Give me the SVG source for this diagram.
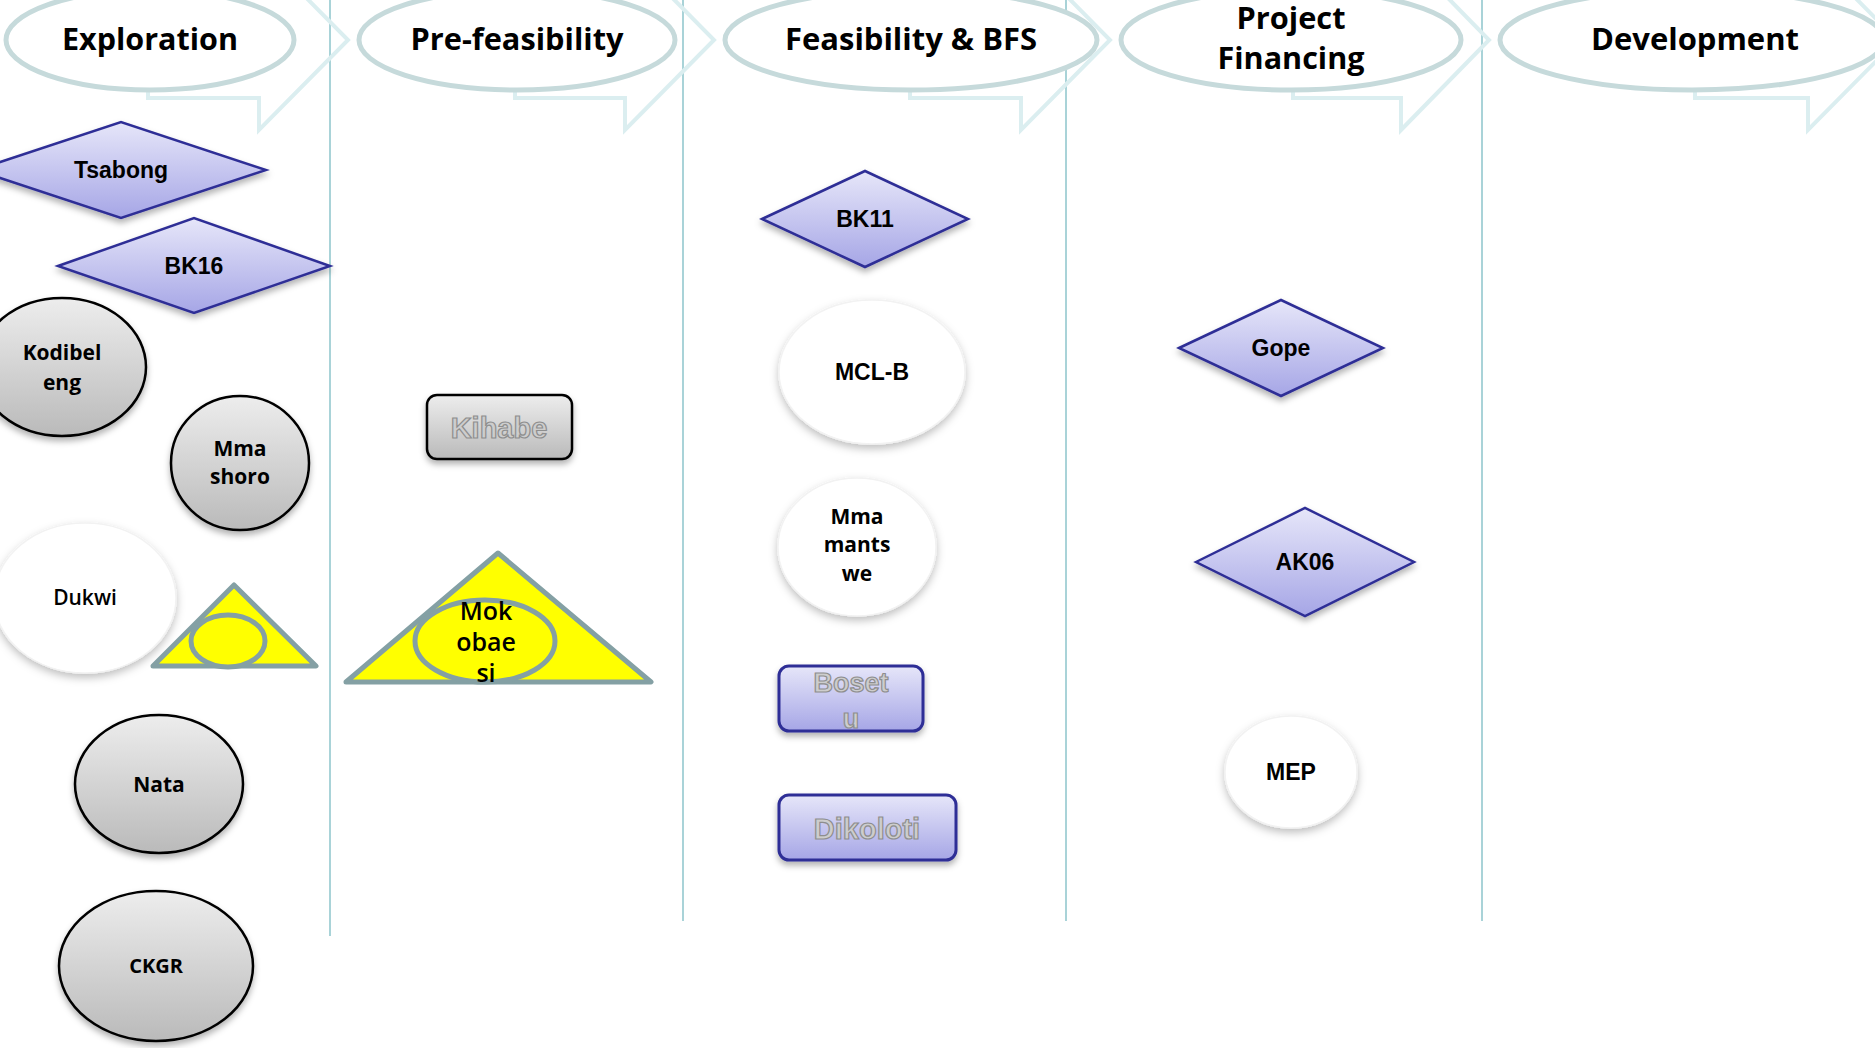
<svg xmlns="http://www.w3.org/2000/svg" width="1875" height="1048" viewBox="0 0 1875 1048">
<defs>
<linearGradient id="gGray" x1="0" y1="0" x2="0" y2="1"><stop offset="0" stop-color="#ededed"/><stop offset="1" stop-color="#bababa"/></linearGradient>
<linearGradient id="gLav" x1="0" y1="0" x2="0" y2="1"><stop offset="0" stop-color="#e6e6f9"/><stop offset="1" stop-color="#a6a6e6"/></linearGradient>
<filter id="sh" x="-20%" y="-20%" width="140%" height="150%"><feDropShadow dx="0" dy="4" stdDeviation="3" flood-color="#000" flood-opacity="0.3"/></filter>
<filter id="shw" x="-20%" y="-20%" width="140%" height="150%"><feDropShadow dx="0" dy="4" stdDeviation="4" flood-color="#000" flood-opacity="0.25"/></filter>
<style>
.div{stroke:#a9d3d8;stroke-width:2;fill:none}
.arr{fill:none;stroke:#dbeef0;stroke-width:4}
.hell{fill:#fff;stroke:#c6dadb;stroke-width:5}
.ht{font-family:"Open Sans","Noto Sans",sans-serif;font-weight:700;font-size:30px;fill:#000;text-anchor:middle}
.dia{fill:url(#gLav);stroke:#2e2e96;stroke-width:2.5;filter:url(#sh)}
.gray{fill:url(#gGray);stroke:#000;stroke-width:2.5;filter:url(#sh)}
.wht{fill:#fff;stroke:#f2f2f2;stroke-width:1.5;filter:url(#shw)}
.lavr{fill:url(#gLav);stroke:#2e2e96;stroke-width:3;filter:url(#sh)}
.yel{fill:#ffff00;stroke:#84a0a4;stroke-width:5;stroke-linejoin:round}
.a{font-family:"Liberation Sans",Arial,sans-serif;font-weight:700;font-size:23px;fill:#000;text-anchor:middle}
.c{font-family:"Open Sans","Noto Sans",sans-serif;font-weight:700;font-size:21px;fill:#000;text-anchor:middle}
.c20{font-size:20px}
.mok{font-size:25px;font-weight:600}
.reg{font-weight:600}
.hol{font-family:"Liberation Sans",Arial,sans-serif;font-weight:700;font-size:29px;fill:#cdcdcd;stroke:#8e8e8e;stroke-width:1.2;text-anchor:middle}
.hol27{font-size:27px}
</style>
</defs>
<rect width="1875" height="1048" fill="#fff"/>

<g id="connectors">
<line class="div" x1="330" y1="0" x2="330" y2="936"/>
<line class="div" x1="683" y1="0" x2="683" y2="921"/>
<line class="div" x1="1066" y1="0" x2="1066" y2="921"/>
<line class="div" x1="1482" y1="0" x2="1482" y2="921"/>
</g>

<g id="h-exploration">
<polygon class="arr" points="148,-18 259,-18 259,-50 348,40 259,130 259,98 148,98"/>
<ellipse class="hell" cx="150" cy="40" rx="144" ry="50"/>
<text class="ht" x="150" y="50" textLength="176" lengthAdjust="spacingAndGlyphs">Exploration</text>
</g>
<g id="h-prefeasibility">
<polygon class="arr" points="515,-18 625,-18 625,-50 714,40 625,130 625,98 515,98"/>
<ellipse class="hell" cx="517" cy="40" rx="158" ry="50"/>
<text class="ht" x="517" y="50" textLength="213" lengthAdjust="spacingAndGlyphs">Pre-feasibility</text>
</g>
<g id="h-feasibility">
<polygon class="arr" points="910,-18 1021,-18 1021,-50 1110,40 1021,130 1021,98 910,98"/>
<ellipse class="hell" cx="911" cy="40" rx="186" ry="50"/>
<text class="ht" x="911" y="50" textLength="252" lengthAdjust="spacingAndGlyphs">Feasibility &amp; BFS</text>
</g>
<g id="h-financing">
<polygon class="arr" points="1293,-18 1401,-18 1401,-50 1489,40 1401,130 1401,98 1293,98"/>
<ellipse class="hell" cx="1291" cy="40" rx="170" ry="50"/>
<text class="ht" x="1291" y="29" textLength="109" lengthAdjust="spacingAndGlyphs">Project</text>
<text class="ht" x="1291" y="69" textLength="147" lengthAdjust="spacingAndGlyphs">Financing</text>
</g>
<g id="h-development">
<polygon class="arr" points="1695,-18 1808,-18 1808,-50 1897,40 1808,130 1808,98 1695,98"/>
<ellipse class="hell" cx="1692" cy="40" rx="192" ry="50"/>
<text class="ht" x="1695" y="50" textLength="208" lengthAdjust="spacingAndGlyphs">Development</text>
</g>

<g id="tsabong">
<polygon class="dia" points="-24,170 121,122 266,170 121,218"/>
<text class="a" x="121" y="178">Tsabong</text>
</g>
<g id="bk16">
<polygon class="dia" points="58,266 194,218 330,266 194,313"/>
<text class="a" x="194" y="274">BK16</text>
</g>
<g id="kodibeleng">
<ellipse class="gray" cx="62" cy="367" rx="84" ry="69"/>
<text class="c" x="62" y="360">Kodibel</text>
<text class="c" x="62" y="390">eng</text>
</g>
<g id="mmashoro">
<ellipse class="gray" cx="240" cy="463" rx="69" ry="67"/>
<text class="c" x="240" y="456">Mma</text>
<text class="c" x="240" y="484">shoro</text>
</g>
<g id="dukwi">
<ellipse class="wht" cx="85" cy="598" rx="91" ry="75"/>
<text class="c reg" x="85" y="605">Dukwi</text>
</g>
<g id="small-triangle">
<polygon class="yel" points="234,585 316,666 153,666"/>
<ellipse cx="228" cy="641" rx="37" ry="26" fill="#ffff00" stroke="#84a0a4" stroke-width="5"/>
</g>
<g id="nata">
<ellipse class="gray" cx="159" cy="784" rx="84" ry="69"/>
<text class="c" x="159" y="792">Nata</text>
</g>
<g id="ckgr">
<ellipse class="gray" cx="156" cy="966" rx="97" ry="75"/>
<text class="c c20" x="156" y="973">CKGR</text>
</g>

<g id="kihabe">
<rect class="gray" x="427" y="395" width="145" height="64" rx="10"/>
<text class="hol" x="499" y="438">Kihabe</text>
</g>
<g id="mokobaesi">
<polygon class="yel" points="498,553 651,682 346,682"/>
<ellipse cx="485" cy="641" rx="70" ry="41" fill="#ffff00" stroke="#84a0a4" stroke-width="5"/>
<text class="c mok" x="486" y="620">Mok</text>
<text class="c mok" x="486" y="651">obae</text>
<text class="c mok" x="486" y="682">si</text>
</g>

<g id="bk11">
<polygon class="dia" points="762,219 865,171 968,219 865,267"/>
<text class="a" x="865" y="227">BK11</text>
</g>
<g id="mcl-b">
<ellipse class="wht" cx="872" cy="372" rx="93" ry="72"/>
<text class="a" x="872" y="380">MCL-B</text>
</g>
<g id="mmamantswe">
<ellipse class="wht" cx="857" cy="547" rx="79" ry="69"/>
<text class="c" x="857" y="524">Mma</text>
<text class="c" x="857" y="552">mants</text>
<text class="c" x="857" y="581">we</text>
</g>
<g id="bosetu">
<rect class="lavr" x="779" y="666" width="144" height="65" rx="10"/>
<text class="hol hol27" x="851" y="692">Boset</text>
<text class="hol hol27" x="851" y="728">u</text>
</g>
<g id="dikoloti">
<rect class="lavr" x="779" y="795" width="177" height="65" rx="10"/>
<text class="hol" x="867" y="839">Dikoloti</text>
</g>

<g id="gope">
<polygon class="dia" points="1179,348 1281,300 1383,348 1281,396"/>
<text class="a" x="1281" y="356">Gope</text>
</g>
<g id="ak06">
<polygon class="dia" points="1196,562 1305,508 1414,562 1305,616"/>
<text class="a" x="1305" y="570">AK06</text>
</g>
<g id="mep">
<ellipse class="wht" cx="1291" cy="772" rx="66" ry="56"/>
<text class="a" x="1291" y="780">MEP</text>
</g>
</svg>
